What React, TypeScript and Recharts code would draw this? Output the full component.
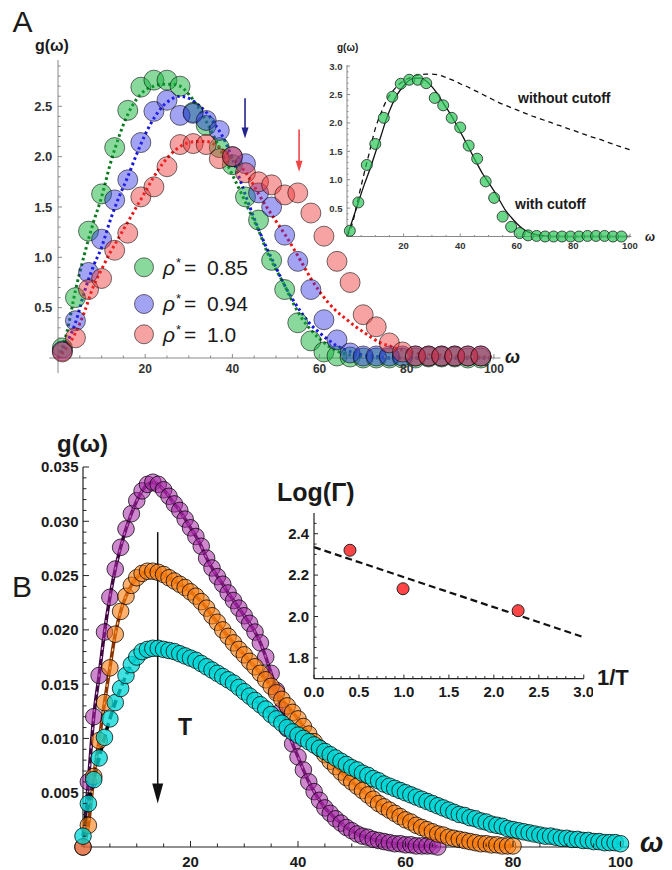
import { ComposedChart, Line, XAxis, YAxis, ReferenceLine } from 'recharts';

const FONT = '"Liberation Sans", Arial, sans-serif';

// ---------- panel A : g(w) for three densities ----------
const omegaA = [1, 4, 7, 10, 13, 16, 19, 22, 25, 28, 31, 34, 37, 40, 43, 46, 49, 52, 55, 58, 61, 64, 67, 70, 73, 76, 79, 82, 85, 88, 91, 94, 97];
const rho085 = [0.1, 0.6, 1.26, 1.63, 2.09, 2.46, 2.69, 2.76, 2.76, 2.7, 2.44, 2.31, 2.09, 1.92, 1.6, 1.37, 0.97, 0.68, 0.35, 0.17, 0.06, 0.02, 0.01, 0, 0, 0, 0, 0, 0.01, 0.01, 0.01, 0, 0];
const rho094 = [0.07, 0.37, 0.85, 1.18, 1.57, 1.77, 2.14, 2.45, 2.56, 2.41, 2.43, 2.36, 2.26, 2.0, 1.93, 1.64, 1.5, 1.22, 0.96, 0.68, 0.38, 0.18, 0.05, 0.02, 0.02, 0.02, 0.02, 0.02, 0.02, 0.02, 0.02, 0.02, 0.02];
const rho100 = [0.06, 0.2, 0.68, 0.79, 1.07, 1.24, 1.6, 1.7, 1.9, 2.12, 2.13, 2.12, 1.98, 2.0, 1.84, 1.75, 1.72, 1.62, 1.64, 1.44, 1.21, 0.96, 0.75, 0.43, 0.31, 0.15, 0.06, 0.02, 0.02, 0.02, 0.02, 0.02, 0.02];
const rhoLabels = ['0.85', '0.94', '1.0'];

// model curves (dotted) on a 2-unit grid
const omegaFit = [0, 2, 4, 6, 8, 10, 12, 14, 16, 18, 20, 22, 24, 26, 28, 30, 32, 34, 36, 38, 40, 42, 44, 46, 48, 50, 52, 54, 56, 58, 60, 62, 64, 66, 68, 70, 72, 74, 76, 78, 80, 82, 84, 86, 88, 90, 92, 94, 96, 98, 100];
const fit085 = [0, 0.25, 0.67, 1.02, 1.33, 1.6, 1.93, 2.2, 2.42, 2.57, 2.66, 2.7, 2.72, 2.72, 2.7, 2.62, 2.5, 2.35, 2.18, 2.0, 1.82, 1.64, 1.45, 1.27, 1.05, 0.88, 0.72, 0.54, 0.39, 0.28, 0.19, 0.12, 0.07, 0.04, 0.02, 0.01, 0, 0, 0, 0, 0, 0, 0, 0, 0, 0, 0, 0, 0, 0, 0];
const fit094 = [0, 0.15, 0.35, 0.65, 0.9, 1.1, 1.37, 1.6, 1.8, 2.02, 2.22, 2.38, 2.5, 2.57, 2.6, 2.58, 2.52, 2.44, 2.32, 2.18, 1.98, 1.74, 1.5, 1.28, 1.08, 0.9, 0.72, 0.57, 0.44, 0.33, 0.25, 0.18, 0.12, 0.08, 0.05, 0.03, 0.02, 0.01, 0, 0, 0, 0, 0, 0, 0, 0, 0, 0, 0, 0, 0];
const fit100 = [0, 0.1, 0.25, 0.45, 0.7, 0.88, 1.05, 1.2, 1.35, 1.5, 1.65, 1.8, 1.93, 2.03, 2.1, 2.14, 2.15, 2.15, 2.12, 2.06, 1.98, 1.9, 1.78, 1.63, 1.49, 1.36, 1.23, 1.09, 0.94, 0.79, 0.66, 0.55, 0.46, 0.39, 0.32, 0.26, 0.2, 0.15, 0.12, 0.09, 0.07, 0.05, 0.04, 0.03, 0.03, 0.02, 0.02, 0.01, 0.01, 0.01, 0.01];

// inset A: with / without cutoff
const withCutoff = [0, 0.3, 0.6, 0.9, 1.17, 1.47, 1.77, 2.08, 2.33, 2.52, 2.65, 2.75, 2.79, 2.79, 2.74, 2.64, 2.51, 2.35, 2.2, 2.03, 1.85, 1.66, 1.47, 1.28, 1.1, 0.95, 0.8, 0.63, 0.46, 0.34, 0.23, 0.14, 0.08, 0.04, 0.02, 0.01, 0, 0, 0, 0, 0, 0, 0, 0, 0, 0, 0, 0, 0, 0, 0];
const withoutCutoff = [0, 0.25, 0.68, 1.1, 1.5, 1.9, 2.17, 2.4, 2.55, 2.66, 2.74, 2.79, 2.83, 2.85, 2.86, 2.86, 2.85, 2.82, 2.78, 2.74, 2.69, 2.65, 2.6, 2.55, 2.5, 2.45, 2.4, 2.35, 2.31, 2.27, 2.23, 2.19, 2.15, 2.11, 2.08, 2.04, 2.01, 1.97, 1.94, 1.9, 1.87, 1.83, 1.8, 1.76, 1.73, 1.7, 1.66, 1.63, 1.59, 1.56, 1.53];

// ---------- panel B : g(w) at three temperatures ----------
const omegaB = [0, 1, 2, 3, 4, 5, 6, 7, 8, 9, 10, 11, 12, 13, 14, 15, 16, 17, 18, 19, 20, 21, 22, 23, 24, 25, 26, 27, 28, 29, 30, 31, 32, 33, 34, 35, 36, 37, 38, 39, 40, 41, 42, 43, 44, 45, 46, 47, 48, 49, 50, 51, 52, 53, 54, 55, 56, 57, 58, 59, 60, 61, 62, 63, 64, 65, 66, 67, 68, 69, 70, 71, 72, 73, 74, 75, 76, 77, 78, 79, 80, 81, 82, 83, 84, 85, 86, 87, 88, 89, 90, 91, 92, 93, 94, 95, 96, 97, 98, 99, 100];
const gLowT = [0, 0.006, 0.012, 0.0158, 0.0198, 0.023, 0.0256, 0.0276, 0.0293, 0.0307, 0.0319, 0.0328, 0.0334, 0.0336, 0.0334, 0.0329, 0.0323, 0.0316, 0.031, 0.0302, 0.0294, 0.0286, 0.0277, 0.0266, 0.0257, 0.0249, 0.0242, 0.0234, 0.0227, 0.022, 0.0213, 0.0206, 0.0198, 0.0188, 0.0175, 0.016, 0.0144, 0.0126, 0.0109, 0.0095, 0.0083, 0.0071, 0.006, 0.0051, 0.0043, 0.0036, 0.0031, 0.0026, 0.0022, 0.0018, 0.0015, 0.0012, 0.001, 0.0009, 0.0007, 0.0006, 0.0005, 0.0004, 0.0003, 0.0003, 0.0002, 0.0002, 0.0001, 0.0001, 0.0001, 0.0001, 0];
const gMidT = [0, 0.002, 0.0065, 0.0098, 0.0133, 0.0165, 0.0196, 0.0217, 0.0231, 0.0241, 0.0248, 0.0252, 0.0254, 0.0254, 0.0253, 0.0251, 0.0248, 0.0245, 0.0242, 0.0239, 0.0235, 0.0231, 0.0226, 0.022, 0.0213, 0.0207, 0.02, 0.0194, 0.0188, 0.0182, 0.0177, 0.0171, 0.0166, 0.016, 0.0154, 0.0148, 0.0142, 0.0136, 0.013, 0.0124, 0.0118, 0.0111, 0.0104, 0.0097, 0.0091, 0.0085, 0.0079, 0.0074, 0.0069, 0.0064, 0.006, 0.0056, 0.0052, 0.0048, 0.0044, 0.004, 0.0037, 0.0034, 0.0031, 0.0028, 0.0025, 0.0023, 0.002, 0.0018, 0.0016, 0.0014, 0.0012, 0.0011, 0.0009, 0.0008, 0.0007, 0.0006, 0.0005, 0.0004, 0.0003, 0.0003, 0.0002, 0.0002, 0.0001, 0.0001, 0.0001];
const gHighT = [0.001, 0.004, 0.0062, 0.0082, 0.0101, 0.0118, 0.0133, 0.0146, 0.0158, 0.0168, 0.0175, 0.018, 0.0182, 0.0183, 0.0183, 0.0182, 0.0181, 0.018, 0.0178, 0.0176, 0.0174, 0.0172, 0.0169, 0.0166, 0.0163, 0.016, 0.0157, 0.0154, 0.0151, 0.0147, 0.0143, 0.0139, 0.0135, 0.0131, 0.0127, 0.0122, 0.0118, 0.0114, 0.011, 0.0106, 0.0103, 0.01, 0.0097, 0.0094, 0.0091, 0.0088, 0.0085, 0.0082, 0.0079, 0.0076, 0.0073, 0.0071, 0.0068, 0.0066, 0.0063, 0.0061, 0.0058, 0.0056, 0.0054, 0.0052, 0.005, 0.0048, 0.0046, 0.0044, 0.0042, 0.004, 0.0038, 0.0036, 0.0034, 0.0032, 0.003, 0.0029, 0.0027, 0.0026, 0.0024, 0.0023, 0.0021, 0.002, 0.0019, 0.0017, 0.0016, 0.0015, 0.0014, 0.0013, 0.0012, 0.0011, 0.001, 0.001, 0.0009, 0.0008, 0.0008, 0.0007, 0.0007, 0.0006, 0.0006, 0.0005, 0.0005, 0.0004, 0.0004, 0.0004, 0.0003];

// inset B: Log(Gamma) vs 1/T
const invT = [0.4, 0.99, 2.27];
const logGamma = [2.32, 2.134, 2.028];
const invTFit = [0, 3];
const logGammaFit = [2.335, 1.9];

const pts = (xs: number[], ys: number[]) => ys.map((y, i) => ({ x: xs[i], y }));

// tick marks
const steps = (from: number, to: number, step: number) => {
  const out: number[] = [];
  for (let v = from; v <= to + step / 2; v += step) out.push(Number(v.toFixed(4)));
  return out;
};

type TickOpts = { axis: 'x' | 'y'; majors: number[]; digits: number; size: number; gap: number; big: number; small: number; color: string; text: string };
const makeTick = (o: TickOpts) => (p: any) => {
  const { x, y, payload } = p;
  const v = payload.value;
  const major = o.majors.some((m) => Math.abs(m - v) < 1e-9);
  const len = major ? o.big : o.small;
  const label = major ? (
    <text
      x={o.axis === 'x' ? x : x - o.gap}
      y={o.axis === 'x' ? y + o.gap : y + o.size * 0.36}
      textAnchor={o.axis === 'x' ? 'middle' : 'end'}
      fontFamily={FONT}
      fontWeight="bold"
      fontSize={o.size}
      fill={o.text}
    >
      {v.toFixed(o.digits)}
    </text>
  ) : null;
  return (
    <g>
      {o.axis === 'x' ? (
        <line x1={x} y1={y} x2={x} y2={y - len} stroke={o.color} strokeWidth={1} />
      ) : (
        <line x1={x} y1={y} x2={x + len} y2={y} stroke={o.color} strokeWidth={1} />
      )}
      {label}
    </g>
  );
};

const circleDot = (r: number, fill: string, stroke: string, sw: number) => (p: any) => (
  <circle key={`c-${p.index}`} cx={p.cx} cy={p.cy} r={r} fill={fill} stroke={stroke} strokeWidth={sw} />
);

const arrowShape = (color: string, head: number, half: number, sw: number) => (p: any) => {
  const top = Math.min(p.y1, p.y2);
  const tip = Math.max(p.y1, p.y2);
  const x = p.x1;
  return (
    <g>
      <line x1={x} y1={top} x2={x} y2={tip - head + 1} stroke={color} strokeWidth={sw} />
      <polygon points={`${x - half},${tip - head} ${x + half},${tip - head} ${x},${tip}`} fill={color} />
    </g>
  );
};

// axes take 1px (an axis of size 0 is not drawn), so the plot box is shifted by it
const box = (plotLeft: number, plotTop: number, m: { top: number; left: number }) => ({
  position: 'absolute' as const,
  left: plotLeft - m.left - 1,
  top: plotTop - m.top,
});

const A_COL = [
  { fill: 'rgba(20,180,60,0.5)', line: '#0b7a1e' },
  { fill: 'rgba(50,50,230,0.45)', line: '#1515e6' },
  { fill: 'rgba(240,50,50,0.45)', line: '#f01515' },
];
const EDGE = 'rgba(0,0,0,0.55)';

function PanelAMain() {
  const m = { top: 20, right: 20, bottom: 30, left: 50 };
  const pw = 442.5;
  const ph = 298;
  const sets = [rho085, rho094, rho100];
  const fits = [fit085, fit094, fit100];
  return (
    <div style={box(58, 60, m)}>
      <ComposedChart width={pw + m.left + m.right + 1} height={ph + m.top + m.bottom + 1} margin={m}>
        <XAxis type="number" dataKey="x" domain={[0, 101.5]} ticks={steps(5, 100, 5)} interval={0} height={1} tickSize={0} tickMargin={0} tickLine={false} axisLine={{ stroke: '#888' }}
          tick={makeTick({ axis: 'x', majors: [20, 40, 60, 80, 100], digits: 0, size: 12, gap: 14.7, big: 4, small: 2.5, color: '#888', text: '#333' })} />
        <YAxis type="number" domain={[0, 2.96]} ticks={steps(0.1, 2.9, 0.1)} interval={0} width={1} tickSize={0} tickMargin={0} tickLine={false} axisLine={{ stroke: '#888' }}
          tick={makeTick({ axis: 'y', majors: [0.5, 1, 1.5, 2, 2.5], digits: 1, size: 13, gap: 5.7, big: 4, small: 2.5, color: '#888', text: '#333' })} />
        <ReferenceLine segment={[{ x: -2, y: 0 }, { x: 0, y: 0 }]} stroke="#888" ifOverflow="visible" />
        <ReferenceLine segment={[{ x: 0, y: -0.15 }, { x: 0, y: 0 }]} stroke="#888" ifOverflow="visible" />
        {sets.map((s, i) => (
          <Line key={`p${i}`} data={pts(omegaA, s)} dataKey="y" stroke="none" dot={circleDot(10, A_COL[i].fill, EDGE, 1)} activeDot={false} isAnimationActive={false} />
        ))}
        {fits.map((f, i) => (
          <Line key={`f${i}`} data={pts(omegaFit, f)} dataKey="y" type="monotone" stroke={A_COL[i].line} strokeWidth={3} strokeDasharray="2.6 3" dot={false} activeDot={false} isAnimationActive={false} />
        ))}
        <ReferenceLine segment={[{ x: 42.9, y: 2.58 }, { x: 42.9, y: 2.18 }]} ifOverflow="visible" shape={arrowShape('#23238c', 11, 3.5, 1.6)} />
        <ReferenceLine segment={[{ x: 55.3, y: 2.27 }, { x: 55.3, y: 1.85 }]} ifOverflow="visible" shape={arrowShape('#f04646', 11, 3.5, 1.6)} />
      </ComposedChart>
    </div>
  );
}

function PanelAInset() {
  const m = { top: 10, right: 10, bottom: 20, left: 30 };
  const pw = 284.4;
  const ph = 171.5;
  return (
    <div style={box(347.4, 65.2, m)}>
      <ComposedChart width={pw + m.left + m.right + 1} height={ph + m.top + m.bottom + 1} margin={m}>
        <XAxis type="number" dataKey="x" domain={[0, 100.5]} ticks={steps(5, 100, 5)} interval={0} height={1} tickSize={0} tickMargin={0} tickLine={false} axisLine={{ stroke: '#888' }}
          tick={makeTick({ axis: 'x', majors: [20, 40, 60, 80, 100], digits: 0, size: 9.5, gap: 12.3, big: 3, small: 1.5, color: '#888', text: '#333' })} />
        <YAxis type="number" domain={[0, 3.02]} ticks={steps(0.1, 3.0, 0.1)} interval={0} width={1} tickSize={0} tickMargin={0} tickLine={false} axisLine={{ stroke: '#888' }}
          tick={makeTick({ axis: 'y', majors: [0.5, 1, 1.5, 2, 2.5, 3], digits: 1, size: 9.5, gap: 4.5, big: 3, small: 1.5, color: '#888', text: '#333' })} />
        <Line data={pts(omegaFit, withoutCutoff)} dataKey="y" type="monotone" stroke="#111" strokeWidth={1.3} strokeDasharray="5 4" dot={false} activeDot={false} isAnimationActive={false} />
        <Line data={pts(omegaA, rho085)} dataKey="y" stroke="none" dot={circleDot(5.5, 'rgba(40,200,85,0.7)', '#222', 0.8)} activeDot={false} isAnimationActive={false} />
        <Line data={pts(omegaFit, withCutoff)} dataKey="y" type="monotone" stroke="#111" strokeWidth={1.3} dot={false} activeDot={false} isAnimationActive={false} />
      </ComposedChart>
    </div>
  );
}

const B_COL = [
  { fill: 'rgba(165,40,165,0.55)', dark: '#3f063f', light: '#e6b3e6' },
  { fill: 'rgba(250,125,15,0.6)', dark: '#8a3300', light: '#ffc48a' },
  { fill: 'rgba(0,215,215,0.75)', dark: '#000', light: '' },
];

function PanelBMain() {
  const m = { top: 20, right: 40, bottom: 22, left: 80 };
  const pw = 545.6;
  const ph = 380;
  const sets = [gLowT, gMidT, gHighT];
  return (
    <div style={box(82.5, 466.7, m)}>
      <ComposedChart width={pw + m.left + m.right + 1} height={ph + m.top + m.bottom + 1} margin={m}>
        <XAxis type="number" dataKey="x" domain={[0, 101.5]} ticks={steps(5, 100, 5)} interval={0} height={1} tickSize={0} tickMargin={0} tickLine={false} axisLine={{ stroke: '#222', strokeWidth: 1.2 }}
          tick={makeTick({ axis: 'x', majors: [20, 40, 60, 80, 100], digits: 0, size: 15, gap: 20.3, big: 6, small: 3.5, color: '#222', text: '#1a1a1a' })} />
        <YAxis type="number" domain={[0, 0.035]} ticks={steps(0.001, 0.035, 0.001)} interval={0} width={1} tickSize={0} tickMargin={0} tickLine={false} axisLine={{ stroke: '#222', strokeWidth: 1.2 }}
          tick={makeTick({ axis: 'y', majors: [0.005, 0.01, 0.015, 0.02, 0.025, 0.03, 0.035], digits: 3, size: 15, gap: 4.5, big: 6, small: 3.5, color: '#222', text: '#1a1a1a' })} />
        {sets.map((s, i) => [
          <Line key={`p${i}`} data={pts(omegaB, s)} dataKey="y" stroke="none" dot={circleDot(8.3, B_COL[i].fill, 'rgba(0,0,0,0.75)', 1)} activeDot={false} isAnimationActive={false} />,
          i < 2 ? (
            <Line key={`d${i}`} data={pts(omegaB, s)} dataKey="y" type="monotone" stroke={B_COL[i].dark} strokeWidth={3.5} dot={false} activeDot={false} isAnimationActive={false} />
          ) : (
            <Line key={`d${i}`} data={pts(omegaB, s)} dataKey="y" type="monotone" stroke="#000" strokeWidth={3.5} strokeDasharray="8 4" dot={false} activeDot={false} isAnimationActive={false} />
          ),
          i < 2 ? (
            <Line key={`l${i}`} data={pts(omegaB, s)} dataKey="y" type="monotone" stroke={B_COL[i].light} strokeWidth={1.3} strokeDasharray="3 6" dot={false} activeDot={false} isAnimationActive={false} />
          ) : null,
        ])}
        <ReferenceLine segment={[{ x: 13.9, y: 0.029 }, { x: 13.9, y: 0.004 }]} ifOverflow="visible" shape={arrowShape('#111', 20, 5.5, 1.5)} />
      </ComposedChart>
    </div>
  );
}

function PanelBInset() {
  const m = { top: 10, right: 10, bottom: 25, left: 40 };
  const pw = 269.8;
  const ph = 165.6;
  return (
    <div style={box(313.5, 512.7, m)}>
      <ComposedChart width={pw + m.left + m.right + 1} height={ph + m.top + m.bottom + 1} margin={m}>
        <XAxis type="number" dataKey="x" domain={[0, 3]} ticks={steps(0, 3, 0.1)} interval={0} height={1} tickSize={0} tickMargin={0} tickLine={false} axisLine={{ stroke: '#222', strokeWidth: 1.2 }}
          tick={makeTick({ axis: 'x', majors: [0, 0.5, 1, 1.5, 2, 2.5, 3], digits: 1, size: 15, gap: 18.5, big: 4, small: 2.5, color: '#222', text: '#1a1a1a' })} />
        <YAxis type="number" domain={[1.7, 2.5]} ticks={steps(1.75, 2.45, 0.05)} interval={0} width={1} tickSize={0} tickMargin={0} tickLine={false} axisLine={{ stroke: '#222', strokeWidth: 1.2 }}
          tick={makeTick({ axis: 'y', majors: [1.8, 2, 2.2, 2.4], digits: 1, size: 15, gap: 5, big: 4, small: 2.5, color: '#222', text: '#1a1a1a' })} />
        <Line data={pts(invTFit, logGammaFit)} dataKey="y" stroke="#111" strokeWidth={2.2} strokeDasharray="7 4" dot={false} activeDot={false} isAnimationActive={false} />
        <Line data={pts(invT, logGamma)} dataKey="y" stroke="none" dot={circleDot(6, '#ff4545', '#222', 1)} activeDot={false} isAnimationActive={false} />
      </ComposedChart>
    </div>
  );
}

function Overlay() {
  const t = { fontFamily: FONT, fill: '#1a1a1a' };
  const legendY = [267.3, 304, 334.3];
  return (
    <svg width={672} height={870} style={{ position: 'absolute', left: 0, top: 0, pointerEvents: 'none' }}>
      <text x={12.5} y={32} fontSize={30} {...t}>A</text>
      <text x={12} y={597} fontSize={30} {...t}>B</text>
      <text x={35} y={51} fontSize={16} fontWeight="bold" {...t}>g(ω)</text>
      <text x={505} y={363} fontSize={18} fontWeight="bold" fontStyle="italic" {...t}>ω</text>
      {rhoLabels.map((lab, i) => (
        <g key={lab}>
          <circle cx={144} cy={legendY[i]} r={9.5} fill={A_COL[i].fill} stroke={EDGE} strokeWidth={1} />
          <text y={legendY[i] + 7.2} fontSize={21} {...t}>
            <tspan x={163} fontStyle="italic">ρ</tspan>
            <tspan x={176} fontSize={13} dy={-8}>*</tspan>
            <tspan x={184} dy={8}>=</tspan>
            <tspan x={207}>{lab}</tspan>
          </text>
        </g>
      ))}
      <text x={337} y={51} fontSize={10} fontWeight="bold" {...t}>g(ω)</text>
      <text x={645} y={241} fontSize={12} fontWeight="bold" fontStyle="italic" {...t}>ω</text>
      <text x={518} y={103} fontSize={14} fontWeight="bold" {...t}>without cutoff</text>
      <text x={515} y={209} fontSize={14} fontWeight="bold" {...t}>with cutoff</text>
      <text x={57} y={452} fontSize={24} fontWeight="bold" {...t}>g(ω)</text>
      <text x={640} y={852} fontSize={28} fontWeight="bold" fontStyle="italic" {...t}>ω</text>
      <text x={178} y={735} fontSize={23} fontWeight="bold" {...t}>T</text>
      <text x={277} y={501} fontSize={25} fontWeight="bold" {...t}>Log(Γ)</text>
      <text x={597} y={685} fontSize={22} fontWeight="bold" {...t}>1/T</text>
    </svg>
  );
}

export default function App() {
  return (
    <div style={{ position: 'fixed', left: 0, top: 0, width: 672, height: 870, background: '#fff', overflow: 'hidden' }}>
      <PanelAMain />
      <PanelAInset />
      <PanelBMain />
      <PanelBInset />
      <Overlay />
    </div>
  );
}
